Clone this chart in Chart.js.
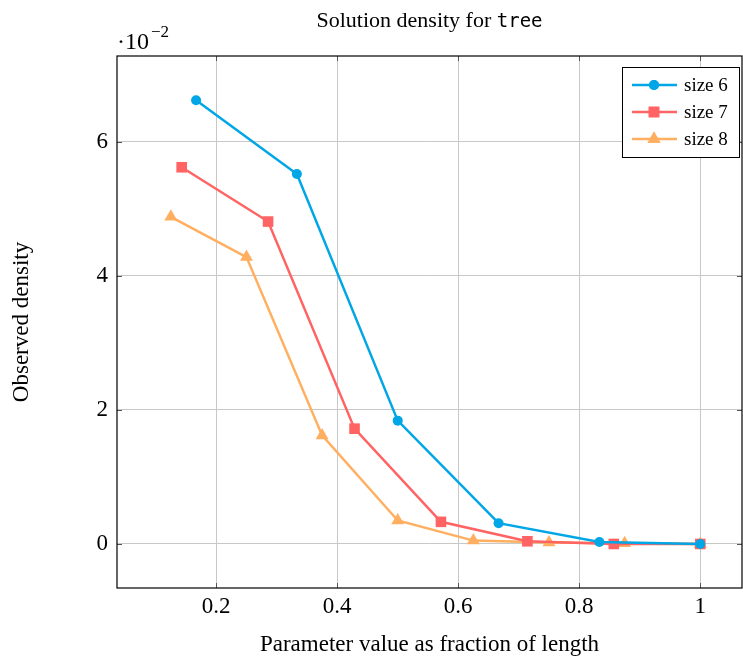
<!DOCTYPE html>
<html>
<head>
<meta charset="utf-8">
<script src="https://cdn.jsdelivr.net/npm/chart.js@4.4.1/dist/chart.umd.min.js"></script>
<style>
  html, body { margin: 0; padding: 0; background: #fff; }
  #wrap { width: 743px; height: 660px; }
</style>
</head>
<body>
<div id="wrap"><canvas id="densityChart" width="743" height="660"></canvas></div>
<script>
// x = parameter value as fraction of length, y = observed density (x 10^-2)
const size6X = [0.1667, 0.3333, 0.5, 0.6667, 0.8333, 1];
const size6Y = [6.62, 5.52, 1.84, 0.31, 0.03, 0.0];
const size7X = [0.1429, 0.2857, 0.4286, 0.5714, 0.7143, 0.8571, 1];
const size7Y = [5.62, 4.81, 1.72, 0.33, 0.04, 0.0, 0.0];
const size8X = [0.125, 0.25, 0.375, 0.5, 0.625, 0.75, 0.875, 1];
const size8Y = [4.88, 4.28, 1.62, 0.35, 0.05, 0.02, 0.01, 0.0];
const xTicks = [0.2, 0.4, 0.6, 0.8, 1];
const yTicks = [0, 2, 4, 6];

const serif = '"Liberation Serif", "DejaVu Serif", serif';
const mono = '"DejaVu Sans Mono", "Liberation Mono", monospace';

function toPoints(xs, ys) {
    return xs.map((x, i) => ({ x: x, y: ys[i] }));
}

const series = [
    { label: 'size 6', xs: size6X, ys: size6Y, color: 'rgb(0, 166, 230)', style: 'circle', r: 5 },
    { label: 'size 7', xs: size7X, ys: size7Y, color: 'rgb(255, 99, 99)', style: 'rect', r: 7.5 },
    { label: 'size 8', xs: size8X, ys: size8Y, color: 'rgb(255, 175, 95)', style: 'triangle', r: 7.5 }
];

// frame, inner tick marks, title, multiplier and legend
const decorations = {
    id: 'decorations',
    afterDraw(chart) {
        const { ctx, chartArea: a, scales } = chart;
        ctx.save();

        // inner tick marks
        ctx.strokeStyle = '#555';
        ctx.lineWidth = 1;
        ctx.beginPath();
        xTicks.forEach(v => {
            const px = Math.round(scales.x.getPixelForValue(v)) + 0.5;
            ctx.moveTo(px, a.bottom); ctx.lineTo(px, a.bottom - 5);
            ctx.moveTo(px, a.top); ctx.lineTo(px, a.top + 5);
        });
        yTicks.forEach(v => {
            const py = Math.round(scales.y.getPixelForValue(v)) + 0.5;
            ctx.moveTo(a.left, py); ctx.lineTo(a.left + 5, py);
            ctx.moveTo(a.right, py); ctx.lineTo(a.right - 5, py);
        });
        ctx.stroke();

        // frame
        ctx.strokeStyle = '#000';
        ctx.lineWidth = 1.2;
        ctx.strokeRect(a.left, a.top, a.right - a.left, a.bottom - a.top);

        // title with monospace word
        ctx.fillStyle = '#000';
        ctx.textBaseline = 'alphabetic';
        const part1 = 'Solution density for ';
        const part2 = 'tree';
        ctx.font = '22px ' + serif;
        const w1 = ctx.measureText(part1).width;
        ctx.font = '19px ' + mono;
        const w2 = ctx.measureText(part2).width;
        let tx = (a.left + a.right) / 2 - (w1 + w2) / 2;
        ctx.font = '22px ' + serif;
        ctx.fillText(part1, tx, 27);
        ctx.font = '19px ' + mono;
        ctx.fillText(part2, tx + w1, 27);

        // axis multiplier
        ctx.font = '24px ' + serif;
        ctx.fillText('\u00b710', a.left, 49);
        const mw = ctx.measureText('\u00b710').width;
        ctx.font = '17px ' + serif;
        ctx.fillText('\u22122', a.left + mw + 2, 37);

        // legend
        const lx = 622, ly = 67, lw = 117, lh = 90;
        ctx.fillStyle = '#fff';
        ctx.fillRect(lx, ly, lw, lh);
        ctx.strokeStyle = '#000';
        ctx.lineWidth = 1;
        ctx.strokeRect(lx + 0.5, ly + 0.5, lw, lh);
        ctx.font = '19px ' + serif;
        ctx.textBaseline = 'middle';
        chart.data.datasets.forEach((ds, i) => {
            const cy = ly + 18 + i * 27;
            ctx.strokeStyle = ds.borderColor;
            ctx.lineWidth = 2.5;
            ctx.beginPath();
            ctx.moveTo(lx + 10, cy);
            ctx.lineTo(lx + 55, cy);
            ctx.stroke();
            ctx.fillStyle = ds.borderColor;
            Chart.helpers.drawPoint(ctx, {
                pointStyle: ds.pointStyle,
                radius: ds.pointRadius,
                borderWidth: 0
            }, lx + 32, cy);
            ctx.fill();
            ctx.fillStyle = '#000';
            ctx.fillText(ds.label, lx + 62, cy + 1);
        });

        ctx.restore();
    }
};

new Chart(document.getElementById('densityChart'), {
    type: 'line',
    data: {
        datasets: series.map(s => ({
            label: s.label,
            data: toPoints(s.xs, s.ys),
            borderColor: s.color,
            backgroundColor: s.color,
            pointBackgroundColor: s.color,
            pointBorderColor: s.color,
            pointBorderWidth: 0,
            pointStyle: s.style,
            pointRadius: s.r,
            pointHoverRadius: s.r,
            borderWidth: 2.5,
            tension: 0,
            fill: false
        }))
    },
    options: {
        responsive: false,
        animation: false,
        layout: { autoPadding: false, padding: { top: 56, right: 1, left: 0, bottom: 0 } },
        plugins: {
            legend: { display: false },
            title: { display: false },
            tooltip: { enabled: false }
        },
        scales: {
            x: {
                type: 'linear',
                min: 0.036,
                max: 1.069,
                afterBuildTicks(scale) {
                    scale.ticks = xTicks.map(v => ({ value: v }));
                },
                afterFit(scale) {
                    scale.height = 72;
                    scale.paddingLeft = 0;
                    scale.paddingRight = 0;
                },
                ticks: {
                    color: '#000',
                    font: { family: serif, size: 23 },
                    padding: 5,
                    maxRotation: 0,
                    callback: v => String(v)
                },
                grid: { color: '#c8c8c8', lineWidth: 1, drawTicks: false },
                border: { display: false },
                title: {
                    display: true,
                    text: 'Parameter value as fraction of length',
                    color: '#000',
                    font: { family: serif, size: 23 },
                    padding: { top: 0, bottom: 1 }
                }
            },
            y: {
                type: 'linear',
                min: -0.657,
                max: 7.28,
                afterBuildTicks(scale) {
                    scale.ticks = yTicks.map(v => ({ value: v }));
                },
                afterFit(scale) {
                    scale.width = 117;
                    scale.paddingTop = 0;
                    scale.paddingBottom = 0;
                },
                ticks: {
                    color: '#000',
                    font: { family: serif, size: 23 },
                    padding: 9,
                    callback: v => String(v)
                },
                grid: { color: '#c8c8c8', lineWidth: 1, drawTicks: false },
                border: { display: false },
                title: {
                    display: true,
                    text: 'Observed density',
                    color: '#000',
                    font: { family: serif, size: 23 },
                    padding: { top: 8, bottom: 0 }
                }
            }
        }
    },
    plugins: [decorations]
});
</script>
</body>
</html>
